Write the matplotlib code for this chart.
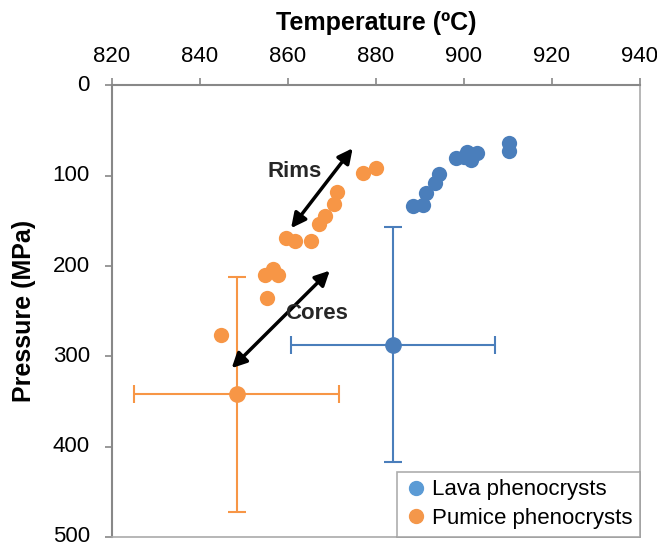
import matplotlib.pyplot as plt
from matplotlib.lines import Line2D

plt.rcParams['font.family'] = ['Liberation Sans', 'DejaVu Sans']

# lava phenocrysts (blue)
lava_T = [910.3, 910.3, 900.6, 902.9, 898.3, 901.7, 900.0, 894.3, 893.4, 891.4, 888.5, 890.6]
lava_P = [63.3, 72.2, 73.3, 75.0, 80.6, 82.5, 79.0, 98.0, 107.6, 118.7, 134.0, 132.0]

# pumice phenocrysts (orange)
pum_T = [877.0, 879.9, 871.2, 870.5, 868.4, 867.1, 865.2, 859.5, 861.7,
         856.7, 854.7, 857.7, 855.3, 844.7]
pum_P = [97.2, 91.0, 118.0, 131.0, 144.5, 153.0, 172.5, 169.0, 171.8,
         203.5, 210.0, 210.0, 235.7, 276.0]

# mean values with uncertainty
lava_mean = (883.9, 287.0)
pum_mean = (848.3, 342.0)
err_T = 23.2
err_P = 130.0

blue = '#4A7EBB'
orange = '#F79646'

fig = plt.figure(figsize=(6.57, 5.47), dpi=100)
ax = fig.add_axes([0.1705, 0.0183, 0.8035, 0.8254])

ax.errorbar(lava_mean[0], lava_mean[1], xerr=err_T, yerr=err_P, fmt='o',
            color=blue, ms=11, elinewidth=1.5, capsize=6.5, capthick=1.5)
ax.errorbar(pum_mean[0], pum_mean[1], xerr=err_T, yerr=err_P, fmt='o',
            color=orange, ms=11, elinewidth=1.5, capsize=6.5, capthick=1.5)
ax.plot(lava_T, lava_P, 'o', color=blue, ms=11, mec='none')
ax.plot(pum_T, pum_P, 'o', color=orange, ms=11, mec='none')

arrow = dict(arrowstyle='<|-|>', color='black', lw=2.5, mutation_scale=22,
             shrinkA=0, shrinkB=0)
ax.annotate('', xy=(860.7, 158.0), xytext=(874.7, 69.5), arrowprops=arrow)
ax.annotate('', xy=(847.2, 313.0), xytext=(869.5, 205.0), arrowprops=arrow)
ax.text(861.4, 94.7, 'Rims', fontsize=16, fontweight='bold', color='#262626',
        ha='center', va='center')
ax.text(866.5, 252.0, 'Cores', fontsize=16, fontweight='bold', color='#262626',
        ha='center', va='center')

ax.set_xlim(820, 940)
ax.set_ylim(500, 0)
ax.set_xticks(range(820, 941, 20))
ax.set_yticks(range(0, 501, 100))
ax.xaxis.tick_top()
ax.xaxis.set_label_position('top')
ax.set_xlabel('Temperature (ºC)', fontsize=18, fontweight='bold', labelpad=12)
ax.set_ylabel('Pressure (MPa)', fontsize=18, fontweight='bold', labelpad=12)
ax.tick_params(axis='both', labelsize=16, color='#888888', length=5, width=1.2,
               direction='out')
ax.tick_params(axis='x', pad=8)
ax.tick_params(axis='y', pad=11)
for t in ax.yaxis.get_major_ticks():
    t.label1.set_va('center')
for side in ['left', 'top']:
    ax.spines[side].set_color('#888888')
    ax.spines[side].set_linewidth(1.5)
for side in ['right', 'bottom']:
    ax.spines[side].set_color('#AAAAAA')
    ax.spines[side].set_linewidth(1.2)

handles = [Line2D([], [], marker='o', ls='none', color='#5B9BD5', ms=10),
           Line2D([], [], marker='o', ls='none', color='#F4974A', ms=10)]
leg = ax.legend(handles, ['Lava phenocrysts', 'Pumice phenocrysts'],
                loc='lower right', borderaxespad=0, fontsize=16,
                fancybox=False, handletextpad=0.2, handlelength=1.0,
                borderpad=0.35, labelspacing=0.35)
leg.get_frame().set_edgecolor('#999999')
leg.get_frame().set_linewidth(1.2)

fig.savefig('out.png', dpi=100)
